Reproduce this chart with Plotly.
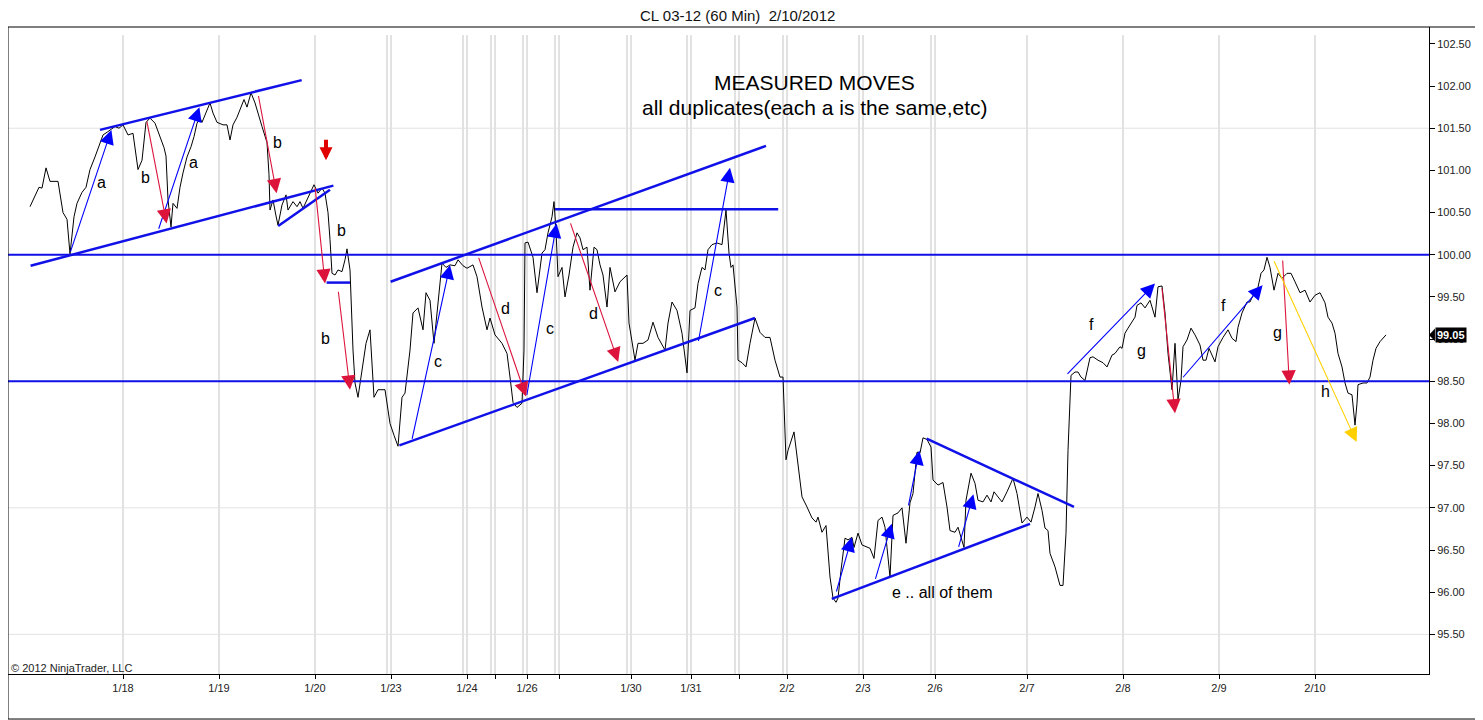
import numpy as np
import plotly.graph_objects as go

# CL 03-12, 60 min closes (x = bar number, y = price)
bars = [
    6.75, 8, 9, 9.75, 10.75, 11.75, 13.75, 15, 16, 16.75,
    17.75, 18.5, 19.75, 20.75, 21.75, 23, 24, 25, 26.25, 28,
    29, 30, 31.25, 32.5, 33.75, 34.75, 35.75, 36.75, 38, 39.25,
    40.25, 40.75, 41.25, 42, 42.5, 43.5, 44.25, 45, 46, 47,
    47.75, 48.5, 49.25, 49.75, 50.75, 51.75, 52.5, 53.5, 55, 56,
    56.75, 57.5, 58.5, 59.5, 60.25, 61, 62, 63, 63.75, 64.75,
    66, 66.5, 66.75, 67.5, 68.25, 68.75, 69.75, 70.75, 71.25, 72.5,
    73.5, 74.25, 75, 76, 76.75, 77.75, 78.75, 79.75, 80.5, 81.25,
    81.75, 82.25, 83, 83.75, 84.75, 85.5, 86, 86.75, 87.5, 88,
    88.75, 89.75, 90.75, 91.75, 92.75, 93.75, 95.5, 96.25, 96.75, 97.75,
    98.75, 99.75, 100.5, 101.75, 102.5, 103.75, 105, 105.75, 106.75, 107.75,
    108.75, 109.75, 110.75, 111.75, 113, 113.75, 115, 116, 117.5, 118.5,
    119.75, 121, 121.75, 123, 124.75, 126, 126.75, 127.5, 128.5, 129.75,
    130.25, 130.5, 131.25, 132.5, 133.5, 134.75, 135.5, 136.25, 137.25, 137.75,
    138.25, 138.75, 139.75, 140.5, 141.5, 142.5, 143.5, 144.25, 145, 146,
    146.75, 147.75, 148.5, 149.25, 150, 151, 151.75, 153, 154.25, 156,
    156.5, 157.25, 158, 158.75, 160, 161.25, 162.5, 163.75, 165.5, 166.25,
    167.25, 168.5, 169.75, 171, 171.75, 173, 173.75, 174.75, 175.5, 176.25,
    177.25, 178.5, 179.75, 180.75, 181.5, 182, 182.5, 183.5, 183.75, 184.75,
    185.75, 186.75, 188, 189.25, 190.5, 191.75, 193, 194.25, 195, 195.75,
    196.25, 197.75, 198.75, 199.75, 201, 202.25, 203.25, 203.75, 204.75, 205.75,
    206.75, 207.5, 208.25, 208.75, 209.5, 210, 210.5, 211.25, 212.25, 212.75,
    213.75, 214.75, 216, 216.75, 217.75, 218.75, 219.75, 220.5, 221, 221.75,
    222.5, 223.75, 224.75, 225.75, 226.75, 227.5, 228.5, 229.25, 230, 231,
    232, 232.5, 233.75, 235, 236, 236.75, 238, 238.75, 240.25, 240.75,
    242, 243, 243.75, 245, 246, 247, 247.75, 248.75, 249.75, 251,
    252.5, 253.5, 254.75, 256, 257, 258, 258.75, 259.75, 260.5, 261.25,
    261.75, 263, 264.25, 265, 265.75, 266.25, 267, 268, 268.75, 269.5,
    270.5, 271.75, 272.5, 273.75, 275, 276, 277.25, 278, 279.25, 279.75,
    280.5, 281.25, 282.25, 283, 283.5, 284.5, 285.5, 286.75, 288, 288.75,
    289.75, 290.5, 291.25, 292.25, 293, 293.5, 293.75, 294.5, 295, 296,
    297, 298, 299.25, 300, 300.75, 301.5, 303, 303.75, 305, 306.25,
    307.25, 308.25, 308.75, 309.75, 311, 311.75, 312.5, 313.5, 314, 314.5,
    315.25, 316, 316.75, 317.75, 318.75, 319.75, 321, 322, 323, 324.25,
    325.5, 326.75, 328, 329.25, 330.5, 331.25, 332.25, 333, 333.75, 334.75,
    335.5, 336.25, 337.25, 338, 338.5, 338.75, 340, 341, 341.75, 342.5,
    343.25, 344.25, 345.75,
]
closes = [
    100.57, 100.69, 100.80, 100.79, 101.03, 100.87, 100.87, 100.50, 100.42, 100.01,
    100.45, 100.61, 100.74, 100.80, 101.01, 101.16, 101.28, 101.42, 101.46, 101.52,
    101.50, 101.54, 101.42, 101.44, 101.01, 101.12, 101.57, 101.62, 101.56, 101.41,
    101.27, 101.17, 100.65, 100.33, 100.61, 100.55, 100.80, 100.97, 101.16, 101.28,
    101.40, 101.56, 101.62, 101.57, 101.68, 101.80, 101.68, 101.57, 101.54, 101.54,
    101.36, 101.54, 101.63, 101.75, 101.84, 101.75, 101.92, 101.80, 101.69, 101.52,
    101.33, 100.95, 100.53, 100.65, 100.46, 100.35, 100.59, 100.71, 100.53, 100.63,
    100.57, 100.63, 100.55, 100.65, 100.73, 100.83, 100.73, 100.79, 100.73, 100.50,
    100.18, 99.78, 99.76, 99.82, 99.80, 99.94, 100.07, 99.82, 98.87, 98.48,
    98.31, 98.61, 98.95, 99.11, 98.31, 98.40, 98.40, 98.16, 98.00, 97.86,
    97.73, 98.31, 98.36, 98.87, 99.31, 99.37, 99.11, 99.55, 99.46, 98.95,
    99.44, 99.90, 99.85, 99.88, 99.87, 99.94, 99.87, 99.84, 99.88, 99.74,
    99.38, 99.11, 99.25, 99.05, 98.95, 98.83, 98.55, 98.25, 98.19, 98.24,
    98.87, 100.14, 100.15, 99.97, 99.55, 100.02, 100.06, 100.26, 100.45, 100.63,
    100.29, 99.74, 99.85, 99.50, 99.76, 100.09, 100.26, 100.20, 100.06, 100.09,
    99.58, 100.09, 100.06, 99.88, 99.76, 99.38, 99.85, 99.56, 99.68, 99.76,
    99.19, 98.95, 98.75, 98.95, 98.95, 98.99, 99.20, 99.02, 98.87, 99.19,
    99.44, 99.34, 99.07, 98.60, 99.34, 99.37, 99.66, 99.85, 99.82, 100.06,
    100.12, 100.14, 100.12, 100.53, 100.02, 99.85, 99.88, 99.38, 98.75, 98.72,
    98.67, 98.95, 99.25, 99.08, 99.02, 99.02, 98.75, 98.55, 98.55, 97.57,
    97.68, 97.90, 97.48, 97.13, 97.01, 96.88, 96.83, 96.89, 96.71, 96.79,
    96.18, 95.93, 95.88, 95.93, 96.26, 96.46, 96.64, 96.62, 96.65, 96.53,
    96.70, 96.56, 96.53, 96.52, 96.40, 96.85, 96.89, 96.77, 96.53, 96.18,
    96.91, 96.94, 97.00, 96.58, 97.06, 97.17, 97.66, 97.65, 97.83, 97.81,
    97.72, 97.33, 97.27, 97.30, 97.01, 96.73, 96.71, 96.77, 96.53, 97.09,
    97.41, 97.29, 97.09, 97.07, 97.15, 97.07, 97.19, 97.13, 97.07, 97.19,
    97.35, 97.17, 96.82, 96.89, 96.83, 97.01, 97.17, 96.97, 96.76, 96.73,
    96.46, 96.30, 96.08, 96.08, 96.70, 97.68, 98.57, 98.61, 98.61, 98.55,
    98.51, 98.78, 98.79, 98.75, 98.72, 98.67, 98.81, 98.83, 98.91, 98.89,
    99.07, 99.13, 99.20, 99.26, 99.40, 99.43, 99.37, 99.46, 99.26, 99.62,
    99.63, 99.31, 98.83, 98.40, 98.95, 98.51, 98.28, 98.51, 98.91, 98.99,
    99.13, 99.05, 98.93, 98.75, 98.75, 98.89, 98.73, 98.91, 99.02, 99.11,
    99.01, 98.97, 99.14, 99.31, 99.44, 99.44, 99.52, 99.56, 99.66, 99.78,
    99.82, 99.97, 99.85, 99.58, 99.78, 99.72, 99.78, 99.78, 99.68, 99.55,
    99.58, 99.44, 99.52, 99.55, 99.43, 99.26, 99.19, 99.07, 98.83, 98.67,
    98.48, 98.36, 98.34, 97.98, 98.24, 98.46, 98.48, 98.48, 98.55, 98.75,
    98.89, 98.97, 99.05,
]
assert len(bars) == len(closes), (len(bars), len(closes))

day_ticks = [30, 54, 78, 97, 116, 123, 131, 139, 157, 172, 184, 196, 215, 233, 256, 280, 304, 328]
day_labels = ["1/18", "1/19", "1/20", "1/23", "1/24", "", "1/26", "", "1/30", "1/31", "",
              "2/2", "2/3", "2/6", "2/7", "2/8", "2/9", "2/10"]
session_breaks = [96, 115, 122, 130, 138, 156, 171, 183, 195, 214, 232]
price_grid = [95.5, 97.0, 98.5, 100.0, 101.5]
key_levels = [100.0, 98.5]

# trendlines (x0, y0, x1, y1)
trend_lines = [
    (24.25, 101.48, 74.67, 102.07),
    (6.9, 99.87, 82.6, 100.82),
    (68.8, 100.34, 81.75, 100.77),
    (80.9, 99.67, 86.75, 99.67),
    (96.9, 99.68, 190.75, 101.29),
    (99.1, 97.74, 188.0, 99.25),
    (138.0, 100.54, 193.8, 100.54),
    (230.9, 97.82, 267.75, 97.01),
    (207.2, 95.92, 256.75, 96.81),
]

# measured moves (tail x, tail y, tip x, tip y)
up_moves = [
    (16.75, 100.02, 27.1, 101.48),
    (38.8, 100.29, 49.1, 101.75),
    (102.2, 97.80, 111.75, 99.88),
    (130.9, 98.32, 138.4, 100.37),
    (173.8, 98.96, 181.75, 101.03),
    (208.25, 95.99, 212.2, 96.65),
    (218.0, 96.14, 222.2, 96.81),
    (226.3, 97.01, 229.1, 97.68),
    (238.8, 96.52, 242.6, 97.16),
    (265.75, 98.57, 288.0, 99.66),
    (294.7, 98.53, 314.9, 99.64),
]
down_moves = [
    (35.9, 101.60, 40.9, 100.37),
    (63.8, 101.90, 68.4, 100.73),
    (78.0, 100.81, 80.5, 99.66),
    (83.8, 99.58, 86.75, 98.40),
    (118.8, 99.98, 130.75, 98.32),
    (141.75, 100.39, 153.8, 98.73),
    (289.7, 99.62, 293.0, 98.12),
    (319.9, 99.95, 321.6, 98.46),
]
yellow_moves = [(317.6, 99.94, 338.4, 97.78)]

move_labels = [
    (24.5, 100.86, "a"), (35.5, 100.92, "b"), (47.5, 101.09, "a"), (68.5, 101.33, "b"),
    (84.5, 100.29, "b"), (80.5, 99.01, "b"), (108.75, 98.73, "c"), (125.5, 99.36, "d"),
    (136.75, 99.12, "c"), (147.5, 99.30, "d"), (178.75, 99.58, "c"),
    (234.75, 96.0, "e .. all of them"), (272.0, 99.17, "f"), (284.5, 98.87, "g"),
    (305.0, 99.40, "f"), (318.5, 99.08, "g"), (330.5, 98.38, "h"),
]

FONT = "Liberation Sans, Arial, sans-serif"

fig = go.Figure()
fig.add_trace(go.Scatter(x=bars, y=closes, mode="lines",
                         line=dict(color="black", width=1), hoverinfo="skip"))

shapes = []
for b in day_ticks + session_breaks:
    shapes.append(dict(type="line", xref="x", yref="paper", x0=b, x1=b, y0=0, y1=0.9876,
                       line=dict(color="#c4c4c4", width=1), layer="below"))
for p in price_grid:
    shapes.append(dict(type="line", xref="paper", yref="y", x0=0, x1=1, y0=p, y1=p,
                       line=dict(color="#e2e2e2", width=1), layer="below"))
for p in key_levels:
    shapes.append(dict(type="line", xref="paper", yref="y", x0=0, x1=1, y0=p, y1=p,
                       line=dict(color="#1010e8", width=2)))
for x0, y0, x1, y1 in trend_lines:
    shapes.append(dict(type="line", xref="x", yref="y", x0=x0, y0=y0, x1=x1, y1=y1,
                       line=dict(color="#1010e8", width=2.5)))

# outer chart frame
shapes.append(dict(type="rect", xref="paper", yref="paper", x0=0, x1=1.0366,
                   y0=-0.0696, y1=1.0, line=dict(color="black", width=1)))

# last price marker pointer
last = closes[-1]
shapes.append(dict(type="path", xref="paper", yref="y",
                   path=f"M 1.0,{last} L 1.0042,{last + 0.075} L 1.0042,{last - 0.075} Z",
                   fillcolor="black", line=dict(color="black", width=0)))

annotations = []


def add_move(moves, color):
    for x0, y0, x1, y1 in moves:
        annotations.append(dict(x=x1, y=y1, ax=x0, ay=y0, xref="x", yref="y",
                                axref="x", ayref="y", text="", showarrow=True,
                                arrowhead=2, arrowsize=2.6, arrowwidth=1.1,
                                arrowcolor=color, standoff=0))


add_move(up_moves, "#0000ff")
add_move(down_moves, "#dc143c")
add_move(yellow_moves, "#ffd000")

# red warning arrow at 1/20
annotations.append(dict(x=80.75, y=101.12, ax=80.75, ay=101.38, xref="x", yref="y",
                        axref="x", ayref="y", text="", showarrow=True, arrowhead=2,
                        arrowsize=0.65, arrowwidth=4, arrowcolor="#e00000"))

for x, y, t in move_labels:
    annotations.append(dict(x=x, y=y, xref="x", yref="y", text=t, showarrow=False,
                            xanchor="center", yanchor="middle",
                            font=dict(family=FONT, size=16, color="black")))

annotations += [
    dict(x=202.75, y=102.04, xref="x", yref="y", text="MEASURED MOVES", showarrow=False,
         xanchor="center", yanchor="middle",
         font=dict(family=FONT, size=21, color="black")),
    dict(x=203.0, y=101.74, xref="x", yref="y", text="all duplicates(each a is the same,etc)",
         showarrow=False, xanchor="center", yanchor="middle",
         font=dict(family=FONT, size=21, color="black")),
    dict(x=0.5137, y=1.018, xref="paper", yref="paper",
         text="CL 03-12 (60 Min) \u00a02/10/2012", showarrow=False,
         xanchor="center", yanchor="middle",
         font=dict(family=FONT, size=15, color="#111")),
    dict(x=0.001, y=0.0093, xref="paper", yref="paper", xanchor="left", yanchor="middle",
         text="\u00a9 2012 NinjaTrader, LLC", showarrow=False,
         font=dict(family=FONT, size=11, color="#222")),
    dict(x=1.0042, y=last, xref="paper", yref="y", xanchor="left", yanchor="middle",
         text=f"<b>{last:.2f}</b>", showarrow=False, bgcolor="black", borderpad=1,
         font=dict(family=FONT, size=11, color="white")),
]

# the page body adds an 8px offset, so the figure is 8px smaller than the window
fig.update_layout(
    width=1475, height=712,
    margin=dict(l=0, r=54, t=19, b=46),
    paper_bgcolor="white", plot_bgcolor="white",
    showlegend=False,
    shapes=shapes, annotations=annotations,
    xaxis=dict(range=[1.25, 356.5], tickvals=day_ticks, ticktext=day_labels,
               ticks="outside", ticklen=4, tickcolor="black", showline=True,
               linecolor="black", linewidth=1, showgrid=False, zeroline=False,
               tickfont=dict(family=FONT, size=11, color="#222")),
    yaxis=dict(range=[95.03, 102.70], side="right",
               tickvals=list(np.arange(95.5, 102.51, 0.5)), tickformat=".2f",
               ticks="outside", ticklen=5, tickcolor="black", showline=True,
               linecolor="black", linewidth=1, showgrid=False, zeroline=False,
               tickfont=dict(family=FONT, size=11, color="#222")),
)

fig.write_html("out.html")
